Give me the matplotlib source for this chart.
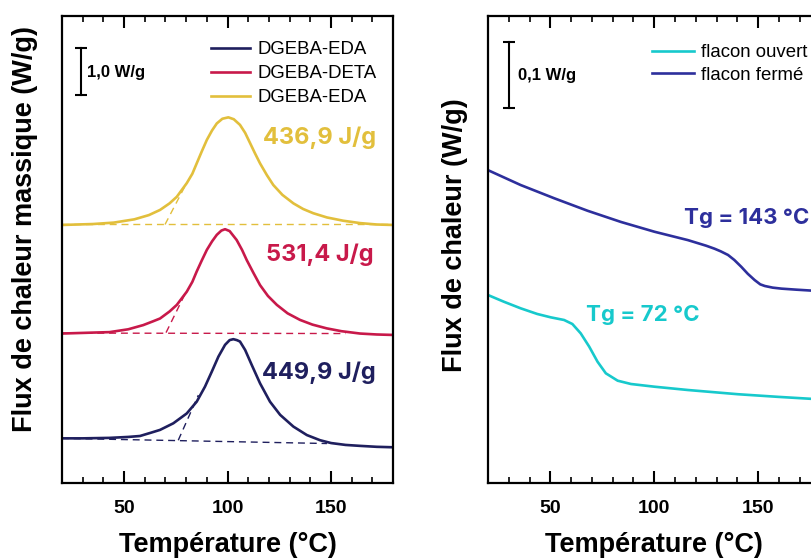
import matplotlib
matplotlib.use("Agg")
import matplotlib.pyplot as plt
from matplotlib.ticker import MultipleLocator

# ---- data (T in °C, heat flow in W/g, offsets as drawn)
# left panel: cure exotherms
T_eda2 = [20, 35, 45, 55, 62, 67.4, 72, 75.5, 80.3, 83, 85.1, 87.5, 90, 92.5, 94.8,
          97.5, 100.4, 103, 106, 108.5, 110.9, 113.3, 115.7, 119, 122.1, 126.5, 131.8,
          136.5, 141.4, 148, 155.9, 164, 172, 180]
q_eda2 = [5.49, 5.51, 5.54, 5.61, 5.70, 5.81, 5.95, 6.09, 6.38, 6.58, 6.80, 7.05, 7.30,
          7.50, 7.65, 7.75, 7.78, 7.74, 7.62, 7.45, 7.23, 7.01, 6.80, 6.55, 6.34, 6.13,
          5.95, 5.83, 5.74, 5.65, 5.58, 5.53, 5.50, 5.49]
T_deta = [20, 35, 43, 52, 59.3, 64, 67.4, 72, 75.5, 80.3, 83, 85.1, 87.5, 90, 92.5,
          94.8, 97, 98.8, 101, 104.4, 107, 109.3, 112.5, 115.7, 119.5, 123.8, 129, 135,
          141, 147.9, 155, 164, 172, 180]
q_deta = [3.18, 3.20, 3.21, 3.27, 3.36, 3.44, 3.50, 3.65, 3.79, 4.07, 4.28, 4.50, 4.73,
          4.96, 5.14, 5.28, 5.37, 5.40, 5.36, 5.17, 4.96, 4.74, 4.47, 4.21, 3.98, 3.79,
          3.61, 3.47, 3.37, 3.29, 3.23, 3.18, 3.16, 3.15]
T_eda1 = [20, 30, 43, 52, 57.7, 63, 67.4, 73.8, 80.3, 85.1, 89.1, 92.4, 95.6, 98.8, 101,
          102.8, 104.5, 106, 108.5, 111.7, 115.7, 120.5, 125.4, 131.8, 138.3, 144.7, 150,
          157, 164, 172, 180]
q_eda1 = [0.95, 0.95, 0.96, 0.98, 1.00, 1.07, 1.13, 1.27, 1.48, 1.73, 2.05, 2.37, 2.69,
          2.94, 3.04, 3.06, 3.04, 3.01, 2.83, 2.51, 2.12, 1.73, 1.45, 1.20, 1.02, 0.91,
          0.85, 0.81, 0.79, 0.77, 0.76]

# integration baselines and onset tangents (dashed)
base_eda2 = ([20, 180], [5.50, 5.50])
tan_eda2 = ([69.8, 79.5], [5.50, 6.32])
base_deta = ([20, 157], [3.19, 3.18])
tan_deta = ([70.3, 80.0], [3.20, 4.07])
base_eda1 = ([20, 148], [0.95, 0.84])
tan_eda1 = ([76.2, 85.9], [0.91, 1.87])

enthalpies = ["449,9 J/g", "531,4 J/g", "436,9 J/g"]
enth_pos = [(144.2, 2.34), (144.7, 4.85), (144.2, 7.34)]

# right panel: glass transitions
T_ferme = [20, 35.7, 51.8, 67.9, 84, 100.1, 116.2, 125, 129, 132, 135.5, 138.5, 141.9,
           145, 148.3, 151, 153.2, 157, 161.2, 168, 175.7, 180]
q_ferme = [0.474, 0.4515, 0.4315, 0.4125, 0.3955, 0.3807, 0.368, 0.3595, 0.355, 0.351,
           0.3455, 0.338, 0.3275, 0.317, 0.3075, 0.301, 0.2985, 0.296, 0.2945, 0.293,
           0.2915, 0.291]
T_ouvert = [20, 27.6, 35.7, 43.7, 50.2, 56.6, 60.6, 64.6, 68.7, 72.7, 76.7, 82.4, 88.8,
            100.1, 116.2, 140.3, 159.7, 175.7, 180]
q_ouvert = [0.2848, 0.2747, 0.2647, 0.2561, 0.2510, 0.2470, 0.2409, 0.2268, 0.2066,
            0.1838, 0.1662, 0.155, 0.150, 0.1459, 0.1409, 0.1345, 0.1305, 0.1275, 0.1265]

C_NAVY = "#1f1f5e"
C_RED = "#c8194a"
C_GOLD = "#e2bf3c"
C_CYAN = "#17c9cc"
C_BLUE = "#2d2f9c"

plt.rcParams.update({
    "font.family": ["Liberation Sans", "DejaVu Sans"],
    "axes.linewidth": 1.6,
    "xtick.direction": "in",
    "xtick.top": True,
    "xtick.major.size": 8.5,
    "xtick.minor.size": 4.5,
    "xtick.major.width": 1.5,
    "xtick.minor.width": 1.2,
    "xtick.major.pad": 12,
    "xtick.labelsize": 14,
})
ANNOT = dict(family=["Inter", "DejaVu Sans"], fontweight="bold")
LEG = dict(loc="upper left", frameon=False, fontsize=13.4, handletextpad=0.4,
           borderpad=0, borderaxespad=0)

fig = plt.figure(figsize=(8.12, 5.59), dpi=100)
axL = fig.add_axes([61.9 / 812, 1 - 483 / 559, 331.3 / 812, 467 / 559])
axR = fig.add_axes([488 / 812, 1 - 483 / 559, 332.5 / 812, 467 / 559])

for ax in (axL, axR):
    ax.set_xlim(20, 180)
    ax.xaxis.set_major_locator(MultipleLocator(50))
    ax.xaxis.set_minor_locator(MultipleLocator(10))
    ax.set_yticks([])
    for lab in ax.get_xticklabels():
        lab.set_fontweight("bold")
    ax.set_xlabel("Température (°C)", fontsize=19.5, fontweight="bold")
    ax.xaxis.set_label_coords(0.5, -0.133)
    ax.xaxis.label.set_va("center")

# ---- left panel
axL.set_ylim(0, 467 / 47)
lw = 1.9
axL.plot(T_eda1, q_eda1, color=C_NAVY, lw=lw, label="DGEBA-EDA")
axL.plot(T_deta, q_deta, color=C_RED, lw=lw, label="DGEBA-DETA")
axL.plot(T_eda2, q_eda2, color=C_GOLD, lw=lw, label="DGEBA-EDA")
dash = dict(lw=1.0, ls=(0, (5, 3.5)))
for (bx, by), (tx, ty), c in [(base_eda1, tan_eda1, C_NAVY), (base_deta, tan_deta, C_RED),
                              (base_eda2, tan_eda2, C_GOLD)]:
    axL.plot(bx, by, color=c, **dash)
    axL.plot(tx, ty, color=c, **dash)
for txt, (x, y), c in zip(enthalpies, enth_pos, [C_NAVY, C_RED, C_GOLD]):
    axL.text(x, y, txt, color=c, ha="center", va="center", fontsize=17, **ANNOT)

axL.plot([29.2, 29.2], [8.26, 9.26], color="black", lw=1.5, marker="_", ms=9, mew=1.5)
axL.text(32.1, 8.74, "1,0 W/g", fontsize=12, fontweight="bold", va="center")
axL.legend(bbox_to_anchor=(0.450, 0.946), handlelength=2.1, labelspacing=0.38, **LEG)
axL.set_ylabel("Flux de chaleur massique (W/g)", fontsize=19.5, fontweight="bold",
               va="center")
axL.yaxis.set_label_coords(-0.111, 0.544)

# ---- right panel
axR.set_ylim(0, 467 / 660)
axR.plot(T_ouvert, q_ouvert, color=C_CYAN, lw=lw, label="flacon ouvert")
axR.plot(T_ferme, q_ferme, color=C_BLUE, lw=lw, label="flacon fermé")
axR.text(144.7, 0.4015, "Tg = 143 °C", color=C_BLUE, ha="center", va="center",
         fontsize=16, **ANNOT)
axR.text(94.4, 0.2545, "Tg = 72 °C", color=C_CYAN, ha="center", va="center",
         fontsize=16, **ANNOT)
axR.plot([30.2, 30.2], [0.5682, 0.6682], color="black", lw=1.5, marker="_", ms=9, mew=1.5)
axR.text(34.5, 0.6167, "0,1 W/g", fontsize=12, fontweight="bold", va="center")
axR.legend(bbox_to_anchor=(0.493, 0.940), handlelength=2.25, labelspacing=0.3, **LEG)
axR.set_ylabel("Flux de chaleur (W/g)", fontsize=19.5, fontweight="bold", va="center")
axR.yaxis.set_label_coords(-0.0993, 0.531)

fig.savefig("out.png", dpi=100)
